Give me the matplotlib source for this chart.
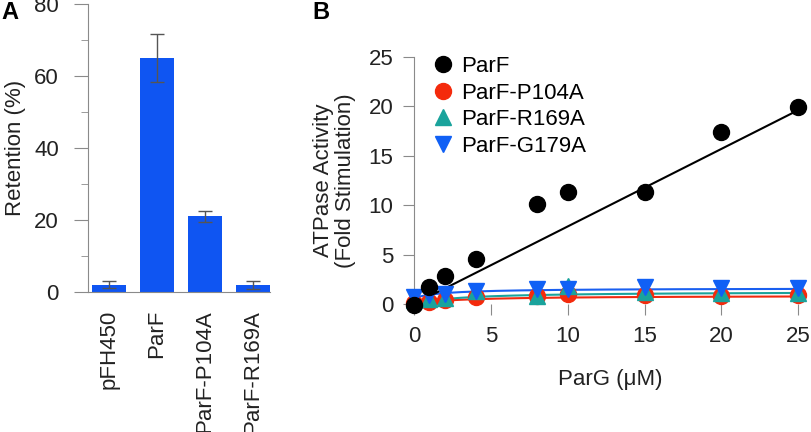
import numpy as np
import matplotlib.pyplot as plt

plt.rcParams['font.family'] = ['Liberation Sans', 'DejaVu Sans']

# ---- Panel A data ----
strains = ['pFH450', 'ParF', 'ParF-P104A', 'ParF-R169A']
retention = [2.0, 65.0, 21.0, 2.0]
retention_err = [1.0, 6.7, 1.5, 1.1]

# ---- Panel B data ----
parg = [0, 1, 2, 4, 8, 10, 15, 20, 25]
parf = [-0.1, 1.7, 2.8, 4.6, 10.1, 11.3, 11.3, 17.4, 19.9]
p104a = [0.1, 0.2, 0.4, 0.7, 0.8, 1.0, 0.9, 0.8, 0.9]
r169a = [0.4, 0.5, 0.6, 1.3, 0.8, 1.8, 1.2, 1.1, 1.1]
g179a = [0.7, 0.9, 1.0, 1.3, 1.5, 1.5, 1.7, 1.6, 1.6]

# fitted curves: linear slope for ParF, hyperbola (y0, vmax, K) for mutants
parf_slope = 0.785
fit_p104a = (0.0, 0.85, 3.0)
fit_r169a = (0.0, 1.25, 3.0)
fit_g179a = (0.6, 1.0, 2.0)

GRAY = '#8a8a8a'
TXT = '#222222'
FS = 16

fig = plt.figure(figsize=(8.12, 4.32), dpi=100)

# ============================================================
# Panel A
# ============================================================
axA = fig.add_axes([0.1084, 0.324, 0.2241, 0.6667])
xpos = np.arange(len(strains))
axA.bar(xpos, retention, width=0.7, color='#0f55f2', zorder=2)
axA.errorbar(xpos, retention, yerr=retention_err, fmt='none',
             ecolor='#555555', elinewidth=1, capsize=5, capthick=1, zorder=3)
axA.set_xlim(-0.44, 3.36)
axA.set_ylim(0, 80)
axA.set_yticks([0, 20, 40, 60, 80])
axA.set_yticks([10, 30, 50, 70], minor=True)
axA.set_xticks(xpos)
axA.set_xticklabels(strains, rotation=90, fontsize=FS, color=TXT)
axA.tick_params(axis='x', length=0, pad=13)
axA.tick_params(axis='y', which='major', length=10, color=GRAY,
                labelsize=FS, labelcolor=TXT, pad=11)
axA.tick_params(axis='y', which='minor', length=5, color=GRAY)
for s in ['top', 'right']:
    axA.spines[s].set_visible(False)
for s in ['left', 'bottom']:
    axA.spines[s].set_color(GRAY)
axA.set_ylabel('Retention (%)', fontsize=FS, color=TXT, labelpad=6)
fig.text(0.002, 0.997, 'A', fontsize=17, fontweight='bold', va='top', ha='left')

# ============================================================
# Panel B
# ============================================================
axB = fig.add_axes([0.5099, 0.2963, 0.4827, 0.5718])
xx = np.linspace(0, 25, 200)


def hyper(x, p):
    y0, vmax, k = p
    return y0 + vmax * x / (k + x)


axB.plot(xx, hyper(xx, fit_p104a), color='#f02a10', lw=1.5, zorder=2)
axB.plot(xx, hyper(xx, fit_r169a), color='#1aa39c', lw=1.5, zorder=2)
axB.plot(xx, hyper(xx, fit_g179a), color='#1a5ff0', lw=1.5, zorder=2)
axB.plot(xx, parf_slope * xx, color='black', lw=1.5, zorder=2)

ms = 11.5
axB.plot(parg, parf, 'o', color='black', ms=ms, label='ParF',
         zorder=6, clip_on=False)
axB.plot(parg, p104a, 'o', color='#f42a0c', ms=ms, label='ParF-P104A',
         zorder=3, clip_on=False)
axB.plot(parg, r169a, '^', color='#1aa39c', ms=ms, label='ParF-R169A',
         zorder=4, clip_on=False)
axB.plot(parg, g179a, 'v', color='#1060f5', ms=ms, label='ParF-G179A',
         zorder=5, clip_on=False)

axB.set_xlim(0, 25.5)
axB.set_ylim(0, 25)
axB.set_xticks([0, 5, 10, 15, 20, 25])
axB.set_yticks([0, 5, 10, 15, 20, 25])
axB.tick_params(axis='x', length=8, color=GRAY, labelsize=FS,
                labelcolor=TXT, pad=8)
axB.tick_params(axis='y', length=8, color=GRAY, labelsize=FS,
                labelcolor=TXT, pad=7)
for s in ['top', 'right', 'bottom']:
    axB.spines[s].set_visible(False)
axB.spines['left'].set_color(GRAY)
axB.set_xlabel('ParG (\u03bcM)', fontsize=FS, color=TXT, labelpad=16)
axB.set_ylabel('ATPase Activity\n(Fold Stimulation)', fontsize=FS,
               color=TXT, labelpad=9, linespacing=1.05)
axB.legend(loc='upper left', bbox_to_anchor=(0.023, 1.04), frameon=False,
           fontsize=FS, handletextpad=0.3, labelspacing=0.25,
           borderaxespad=0, handlelength=1.0, markerscale=1.0)
fig.text(0.385, 0.997, 'B', fontsize=17, fontweight='bold', va='top', ha='left')

fig.savefig('out.png', dpi=100)
